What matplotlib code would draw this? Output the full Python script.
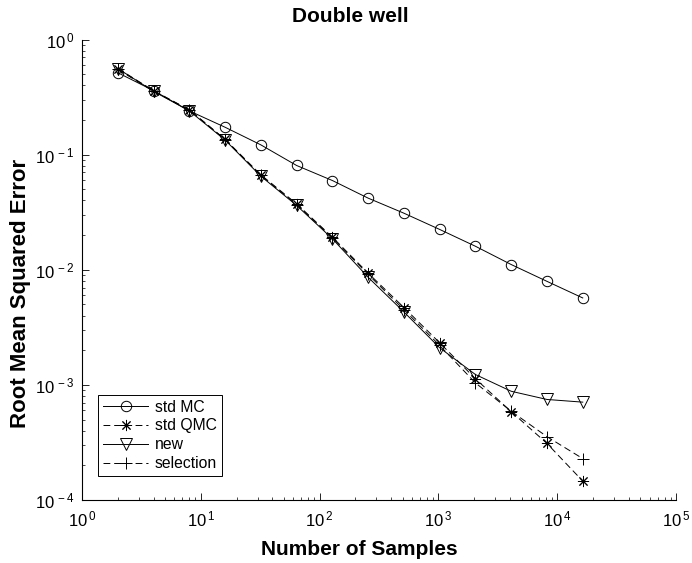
#!/usr/bin/env python3

import numpy
import matplotlib
matplotlib.use('Agg')
import matplotlib.pyplot as plt
from matplotlib.ticker import LogLocator, FuncFormatter

plt.rcParams['font.family'] = ['Liberation Sans', 'DejaVu Sans']
plt.rcParams['mathtext.fontset'] = 'custom'
plt.rcParams['mathtext.rm'] = 'Liberation Sans'

# number of samples: 2^1 .. 2^14
samples = [2, 4, 8, 16, 32, 64, 128, 256, 512, 1024, 2048, 4096, 8192, 16384]

std_mc = [0.515, 0.36, 0.24, 0.173, 0.1216, 0.0805, 0.0596, 0.0419, 0.031,
          0.0224, 0.0160, 0.0111, 0.00793, 0.00569]
std_qmc = [0.56, 0.36, 0.245, 0.136, 0.0668, 0.0374, 0.0192, 0.00935, 0.0047,
           0.00232, 0.00113, 0.000585, 0.00031, 0.000146]
new = [0.56, 0.355, 0.24, 0.134, 0.065, 0.0362, 0.0186, 0.0086, 0.0043,
       0.0021, 0.00123, 0.00088, 0.000747, 0.000708]
selection = [0.55, 0.355, 0.245, 0.135, 0.066, 0.0368, 0.019, 0.0091, 0.0045,
             0.0022, 0.00104, 0.00059, 0.000355, 0.000229]

fig = plt.figure(figsize=(6.92, 5.63), dpi=100)
ax = fig.add_axes([0.1185, 0.1119, 0.8585, 0.8179])

lw = 0.7
dash = (0, (7, 4))
ax.plot(samples, std_mc, color='k', lw=lw, ls='-', marker='o', ms=7.5,
        mfc='none', mew=0.7, label='std MC')
ax.plot(samples, std_qmc, color='k', lw=lw, ls=dash, marker=(8, 2, 0), ms=8,
        mfc='none', mew=0.7, label='std QMC')
ax.plot(samples, new, color='k', lw=lw, ls='-', marker='v', ms=8,
        mfc='none', mew=0.7, label='new')
ax.plot(samples, selection, color='k', lw=lw, ls=dash, marker='+', ms=9,
        mfc='none', mew=0.7, label='selection')

ax.set_xscale('log')
ax.set_yscale('log')
ax.set_xlim(1, 1e5)
ax.set_ylim(1e-4, 1)

ax.spines['top'].set_visible(False)
ax.spines['right'].set_visible(False)
ax.spines['left'].set_linewidth(0.8)
ax.spines['bottom'].set_linewidth(0.8)

for axis in (ax.xaxis, ax.yaxis):
    axis.set_major_locator(LogLocator(base=10, numticks=10))
    axis.set_minor_locator(LogLocator(base=10, subs=numpy.arange(2, 10), numticks=20))
    axis.set_major_formatter(FuncFormatter(
        lambda v, p: r'$\mathregular{10^{\,%d}}$' % round(numpy.log10(v))))

ax.tick_params(which='both', direction='in', labelsize=12, top=False, right=False)
ax.tick_params(which='major', length=4.8, width=0.6)
ax.tick_params(which='minor', length=2.4, width=0.5)
ax.tick_params(axis='x', pad=7)
ax.tick_params(axis='y', pad=5)

ax.set_title('Double well', fontsize=15, fontweight='bold', x=0.451, y=1.049,
             va='center', pad=0)
ax.set_xlabel('Number of Samples', fontsize=15, fontweight='bold', va='center')
ax.xaxis.set_label_coords(0.467, -0.108)
ax.set_ylabel('Root Mean Squared Error', fontsize=16, fontweight='bold', va='center')
ax.yaxis.set_label_coords(-0.104, 0.4495)

leg = ax.legend(loc='lower left', bbox_to_anchor=(0.027, 0.052), fontsize=11.3,
                fancybox=False, edgecolor='k', framealpha=1, handlelength=2.9,
                borderpad=0.3, labelspacing=0.25, handletextpad=0.4,
                borderaxespad=0)
leg.get_frame().set_linewidth(0.7)

fig.savefig('out.png', dpi=100)
